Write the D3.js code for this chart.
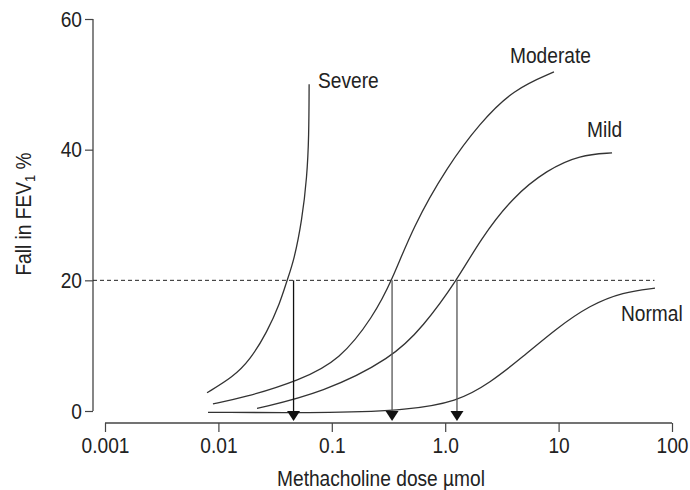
<!DOCTYPE html>
<html><head><meta charset="utf-8">
<script src="https://cdn.jsdelivr.net/npm/d3@7"></script>
<style>body{margin:0;background:#fff}svg{display:block}text{font-family:"Liberation Sans",Arial,sans-serif;fill:#222}</style>
</head><body>
<svg id="c" width="690" height="490"></svg>
<script>
// Data (dose in µmol, fall in FEV1 %)
const severeDose = [0.00794, 0.01346, 0.019, 0.0269, 0.0349, 0.0403, 0.0465, 0.0546, 0.0604, 0.0628, 0.0631];
const severeFall = [2.8, 5.2, 7.8, 12.1, 16.5, 20, 23.1, 29.2, 35.8, 42, 50];
const moderateDose = [0.00895, 0.0165, 0.0525, 0.118, 0.231, 0.34, 0.52, 1.04, 2.03, 3.96, 9.1];
const moderateFall = [1.1, 2.0, 4.7, 7.8, 14.4, 20, 28.2, 37.4, 44.1, 49.2, 51.9];
const mildDose = [0.0219, 0.0835, 0.34, 0.637, 1.27, 2.03, 3.96, 7.9, 15.4, 29.6];
const mildFall = [0.4, 2.8, 8.1, 12.9, 20, 26.2, 32.8, 36.9, 39.2, 39.5];
const normalDose = [0.0081, 0.118, 0.46, 1.27, 2.48, 4.85, 9.68, 18.9, 37, 70.8];
const normalFall = [-0.2, -0.3, 0.15, 1.4, 4.3, 8.3, 12.7, 16.2, 18.2, 18.8];
const seriesNames = ["Severe", "Moderate", "Mild", "Normal"];
const pd20 = [0.046, 0.34, 1.27];        // provocative doses (arrows)
const threshold = 20;
const xTickValues = [0.001, 0.01, 0.1, 1, 10, 100];
const xTickLabels = ["0.001", "0.01", "0.1", "1.0", "10", "100"];
const yTickValues = [0, 20, 40, 60];
const xTitle = "Methacholine dose µmol";

const svg = d3.select("#c");
const x = d3.scaleLog().domain([0.001, 100]).range([105, 672]);
const y = d3.scaleLinear().domain([0, 60]).range([411, 19]);
const FS = 22, SQ = 0.87;
function condense(sel){ sel.each(function(){ const w=this.getComputedTextLength(); this.setAttribute("textLength", w*SQ); this.setAttribute("lengthAdjust","spacingAndGlyphs"); }); }

// Y axis
const ya = svg.append("g").attr("transform","translate(93,0)")
  .call(d3.axisLeft(y).tickValues(yTickValues).tickSize(8).tickPadding(3).tickFormat(d3.format("d")));
ya.select(".domain").attr("d", `M0,${y(60)}V${y(0)}`).attr("stroke","#444").attr("stroke-width",1.3);
ya.selectAll(".tick line").attr("stroke","#444").attr("stroke-width",1.2);
ya.selectAll("text").attr("font-size",FS).attr("font-family","Liberation Sans").attr("fill","#222").call(condense);

// X axis
const xa = svg.append("g").attr("transform","translate(0,423)")
  .call(d3.axisBottom(x).tickValues(xTickValues).tickSize(9).tickPadding(5).tickFormat((d,i)=>xTickLabels[i]));
xa.select(".domain").attr("d", `M${x(0.001)},0H${x(100)}`).attr("stroke","#444").attr("stroke-width",1.3);
xa.selectAll(".tick line").attr("stroke","#444").attr("stroke-width",1.2);
xa.selectAll("text").attr("font-size",FS).attr("font-family","Liberation Sans").attr("fill","#222").call(condense);

// Axis titles
svg.append("text").attr("x",381).attr("y",486).attr("text-anchor","middle").attr("font-size",FS).text(xTitle).call(condense);
const yt = svg.append("text").attr("transform","translate(31,214) rotate(-90)").attr("text-anchor","middle").attr("font-size",FS);
yt.append("tspan").text("Fall in FEV");
yt.append("tspan").attr("font-size",15).attr("dy",4).text("1");
yt.append("tspan").attr("dy",-4).text(" %");
condense(yt);

// Dashed threshold line
svg.append("line").attr("x1",93).attr("x2",x(70)).attr("y1",y(threshold)).attr("y2",y(threshold))
  .attr("stroke","#222").attr("stroke-width",1).attr("stroke-dasharray","4,3");

// Curves
const series = [
  {dose: severeDose, fall: severeFall},
  {dose: moderateDose, fall: moderateFall},
  {dose: mildDose, fall: mildFall},
  {dose: normalDose, fall: normalFall}
];
const line = d3.line().x(d=>x(d[0])).y(d=>y(d[1])).curve(d3.curveBasis);
series.forEach(s=>{
  svg.append("path").attr("d", line(s.dose.map((d,i)=>[d, s.fall[i]])))
    .attr("fill","none").attr("stroke","#333").attr("stroke-width",1.3);
});

// Arrows
const arrowColors = ["#111","#555","#555"];
pd20.forEach((d,i)=>{
  const px = x(d);
  svg.append("line").attr("x1",px).attr("x2",px).attr("y1",y(threshold)).attr("y2",y(0))
    .attr("stroke",arrowColors[i]).attr("stroke-width",1.3);
  svg.append("path").attr("d",`M${px-6.5},${y(0)}L${px+6.5},${y(0)}L${px},${y(0)+10}Z`).attr("fill","#111");
});

// Series labels
const labelPos = [[318,88],[510,63],[587,137],[621,321]];
seriesNames.forEach((n,i)=>{
  svg.append("text").attr("x",labelPos[i][0]).attr("y",labelPos[i][1]).attr("font-size",FS).text(n).call(condense);
});
</script>
</body></html>
